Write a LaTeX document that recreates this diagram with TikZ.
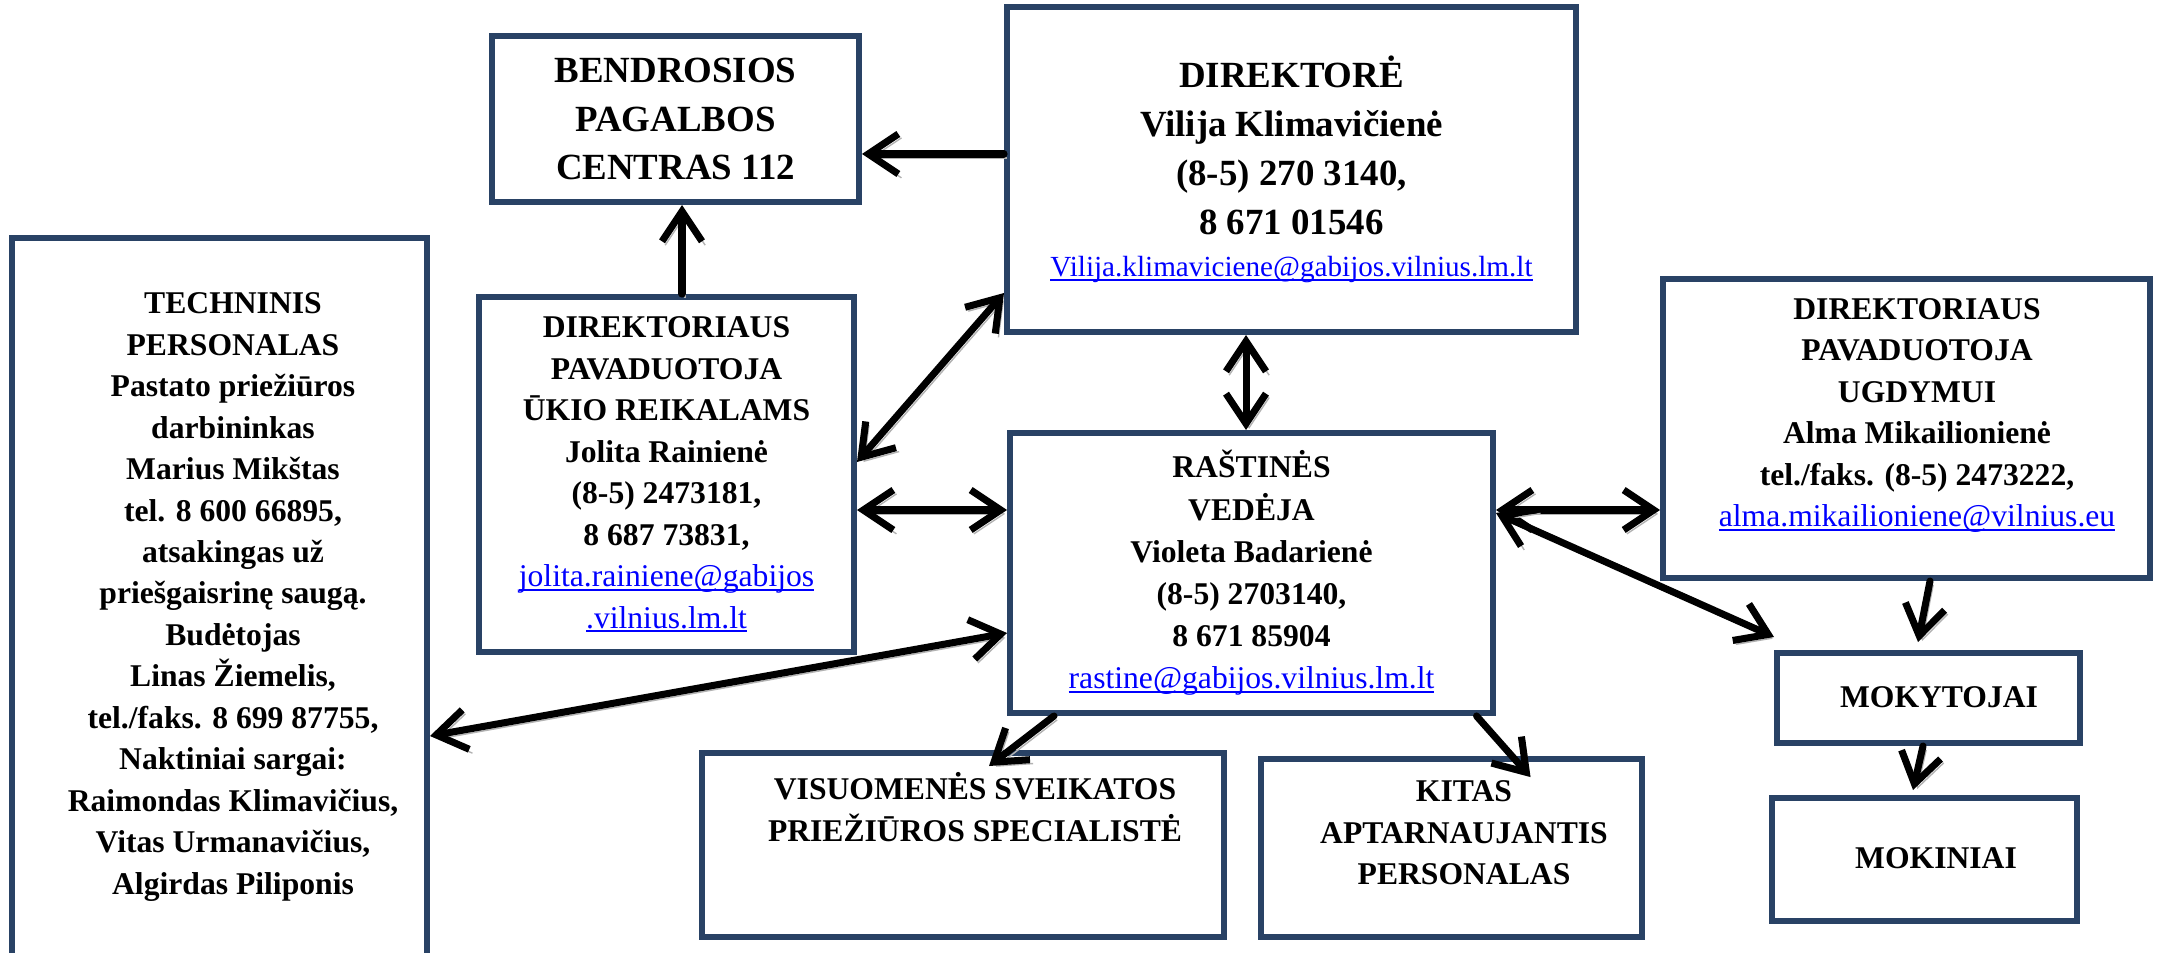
\documentclass[tikz,border=0pt]{standalone}
\usepackage{fontspec}
\setmainfont{Liberation Serif}
\usetikzlibrary{arrows.meta}

\definecolor{boxblue}{RGB}{41,66,101}
\definecolor{mailblue}{RGB}{0,0,255}
\newcommand{\mail}[1]{{\mdseries\color{mailblue}\setbox0\hbox{#1}\rlap{\rule[-1.2pt]{\wd0}{0.5pt}}\box0}}

\tikzset{
  box/.style={draw=boxblue, line width=1.7pt, inner sep=0pt, align=center},
  txt/.style={align=center, inner sep=0pt, font=\bfseries\fontsize{9}{11.8}\selectfont},
  link/.style={line width=2pt, line cap=round, line join=round,
    preaction={draw=black!30, transform canvas={shift={(0.9pt,-1.1pt)}}}},
}

\begin{document}
\begin{tikzpicture}[>={Straight Barb[length=3mm,width=4mm]}]
  \useasboundingbox (0,0) rectangle (21.57,-9.53);
  \clip (0,0) rectangle (21.57,-9.53);

  % Top boxes
  \node[box, font=\bfseries\fontsize{10.5}{13.8}\selectfont, minimum width=3.67cm, minimum height=1.66cm] (bpc) at (6.755,-1.19)
    {BENDROSIOS\\PAGALBOS\\CENTRAS 112};
  \node[box, font=\bfseries\fontsize{10.5}{13.9}\selectfont, minimum width=5.69cm, minimum height=3.25cm] (dir) at (12.915,-1.695)
    {DIREKTORĖ\\Vilija Klimavičienė\\(8-5) 270 3140,\\8 671 01546\\[-2pt]{\fontsize{8.3}{10}\selectfont\mail{Vilija.klimaviciene@gabijos.vilnius.lm.lt}}};

  % Middle boxes
  \node[box, txt, minimum width=3.75cm, minimum height=3.55cm] (jr) at (6.665,-4.745)
    {DIREKTORIAUS\\PAVADUOTOJA\\ŪKIO REIKALAMS\\Jolita Rainienė\\(8-5) 2473181,\\8 687 73831,\\\mail{jolita.rainiene@gabijos}\\\mail{.vilnius.lm.lt}};
  \node[box, txt, font=\bfseries\fontsize{9}{12}\selectfont, minimum width=4.83cm, minimum height=2.80cm] (ras) at (12.515,-5.73)
    {RAŠTINĖS\\VEDĖJA\\Violeta Badarienė\\(8-5) 2703140,\\8 671 85904\\\mail{rastine@gabijos.vilnius.lm.lt}};

  % Technical staff (runs off the bottom edge)
  \node[box, minimum width=4.15cm, minimum height=7.42cm] (tech) at (2.195,-6.09) {};
  \node[txt] (techtxt) at (2.33,-5.97)
    {TECHNINIS\\PERSONALAS\\Pastato priežiūros\\darbininkas\\Marius Mikštas\\tel. 8 600 66895,\\atsakingas už\\priešgaisrinę saugą.\\Budėtojas\\Linas Žiemelis,\\tel./faks. 8 699 87755,\\Naktiniai sargai:\\Raimondas Klimavičius,\\Vitas Urmanavičius,\\Algirdas Piliponis};

  % Right column
  \node[box, minimum width=4.87cm, minimum height=2.99cm] (alma) at (19.065,-4.285) {};
  \node[txt] (almatxt) at (19.17,-4.155)
    {DIREKTORIAUS\\PAVADUOTOJA\\UGDYMUI\\Alma Mikailionienė\\tel./faks. (8-5) 2473222,\\\mail{alma.mikailioniene@vilnius.eu}};
  \node[box, minimum width=3.03cm, minimum height=0.90cm] (mkt) at (19.285,-6.98) {};
  \node[txt] (mkttxt) at (19.39,-6.97) {MOKYTOJAI};
  \node[box, minimum width=3.05cm, minimum height=1.23cm] (mkn) at (19.245,-8.595) {};
  \node[txt] (mkntxt) at (19.36,-8.58) {MOKINIAI};

  % Bottom boxes
  \node[box, minimum width=5.22cm, minimum height=1.84cm] (vs) at (9.63,-8.45) {};
  \node[txt] (vstxt) at (9.75,-8.07) {VISUOMENĖS SVEIKATOS\\PRIEŽIŪROS SPECIALISTĖ};
  \node[box, minimum width=3.81cm, minimum height=1.78cm] (kitas) at (14.515,-8.48) {};
  \node[txt] (kitastxt) at (14.64,-8.33) {KITAS\\APTARNAUJANTIS\\PERSONALAS};

  % Arrows
  \draw[link, ->] (dir.west |- 0,-1.54) -- (bpc.east |- 0,-1.54);
  \draw[link, ->] (jr.north -| 6.82,0) -- (bpc.south -| 6.82,0);
  \draw[link, <->] (jr.east |- 0,-4.62) -- (dir.west |- 0,-2.93);
  \draw[link, <->] (jr.east |- 0,-5.10) -- (ras.west |- 0,-5.10);
  \draw[link, <->] (tech.east |- 0,-7.36) -- (ras.west |- 0,-6.33);
  \draw[link, <->] (dir.south -| 12.46,0) -- (ras.north -| 12.46,0);
  \draw[link, <->] (ras.east |- 0,-5.10) -- (alma.west |- 0,-5.10);
  \draw[link, <->] (ras.east |- 0,-5.13) -- ([yshift=1.3mm]mkt.north west);
  \draw[link, ->] ([xshift=-19.75mm]ras.south) -- ([shift={(2.6mm,-1.6mm)}]vs.north);
  \draw[link, ->] ([xshift=22.5mm]ras.south) -- ([shift={(7.9mm,-2.1mm)}]kitas.north);
  \draw[link, ->] ([xshift=2.35mm]alma.south) -- ([shift={(-1.05mm,0.8mm)}]mkt.north);
  \draw[link, ->] ([xshift=-0.55mm]mkt.south) -- ([shift={(-1.15mm,0.5mm)}]mkn.north);
\end{tikzpicture}
\end{document}
